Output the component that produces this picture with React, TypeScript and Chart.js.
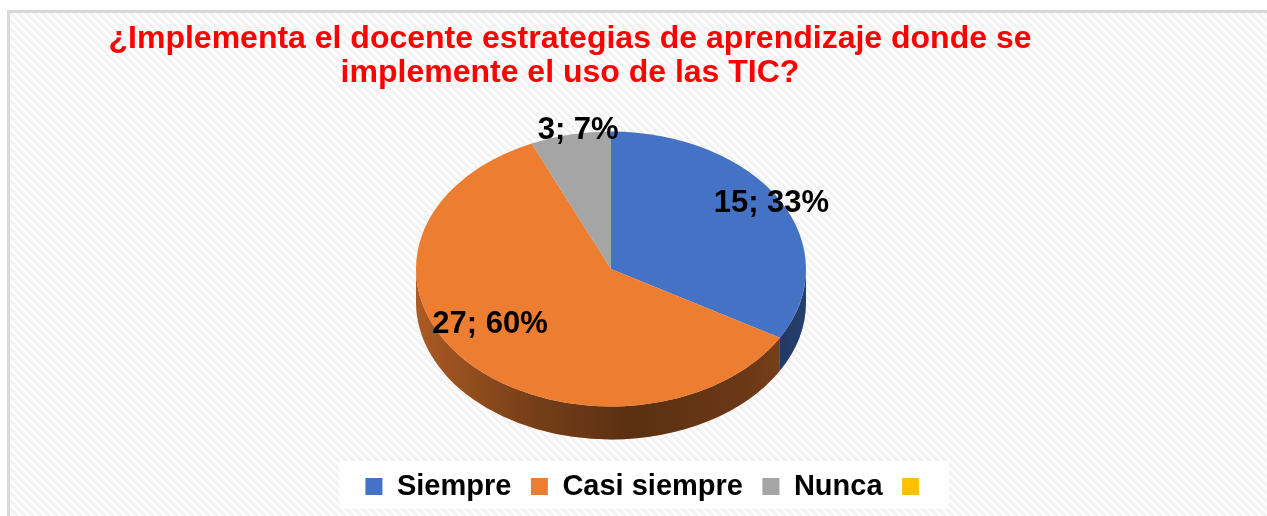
import React, { useEffect, useRef } from "react";
import { Chart, registerables } from "chart.js";

Chart.register(...registerables);

// ---------- data ----------
const titleLines = [
  "¿Implementa el docente estrategias de aprendizaje donde se",
  "implemente el uso de las TIC?",
];
const categories = ["Siempre", "Casi siempre", "Nunca", ""];
const counts = [15, 27, 3, 0];
const sliceColors = ["#4472C4", "#ED7D31", "#A5A5A5", "#FFC000"];

// ---------- style ----------
const FONT = "'Liberation Sans', Arial, Helvetica, sans-serif";
const TILT = 0.705; // vertical squash of the pie top face
const DEPTH = 33; // thickness of the 3D pie side
const RADIUS = 195;
const labelRadius = [0.95, 0.74, 1.02, 0];
const labelNudgeDeg = [0, 9, 2.5, 0];
const TITLE_X = 560;
const TITLE_BASELINES = [35, 69];
const CANVAS_W = 1257;
const CANVAS_H = 503;

function makePattern(ctx: CanvasRenderingContext2D) {
  const c = document.createElement("canvas");
  c.width = 8;
  c.height = 8;
  const g = c.getContext("2d")!;
  g.fillStyle = "#f8f8f8";
  g.fillRect(0, 0, 8, 8);
  for (let i = 0; i < 8; i++) {
    g.fillStyle = "#efefef";
    g.fillRect(i % 8, i, 1, 1);
    g.fillRect((i + 1) % 8, i, 1, 1);
    g.fillStyle = "#ffffff";
    g.fillRect((i + 4) % 8, i, 1, 1);
    g.fillRect((i + 5) % 8, i, 1, 1);
  }
  return ctx.createPattern(c, "repeat");
}

const backgroundPlugin = {
  id: "bgPattern",
  beforeDraw(chart: any) {
    const { ctx, width, height } = chart;
    ctx.save();
    ctx.fillStyle = makePattern(ctx) || "#f5f5f5";
    ctx.fillRect(0, 0, width, height);
    const lg = chart.legend;
    if (lg && lg.legendHitBoxes && lg.legendHitBoxes.length) {
      const hb = lg.legendHitBoxes;
      const first = hb[0];
      const last = hb[hb.length - 1];
      const box = lg.options.labels.boxWidth;
      const mid = first.top + first.height / 2;
      const left = first.left - 26;
      const right = last.left + box + 30;
      ctx.fillStyle = "#ffffff";
      ctx.fillRect(left, mid - 25.5, right - left, 48);
    }
    ctx.restore();
  },
};

let saved = false;
const pie3dPlugin = {
  id: "pie3d",
  beforeDatasetsDraw(chart: any) {
    const meta = chart.getDatasetMeta(0);
    const arcs = meta.data;
    saved = false;
    if (!arcs.length) return;
    const ctx: CanvasRenderingContext2D = chart.ctx;
    const cx = arcs[0].x;
    const cy = arcs[0].y;
    const rx = arcs[0].outerRadius;
    const ry = rx * TILT;
    const colors = chart.data.datasets[0].backgroundColor;

    const shade = ctx.createLinearGradient(cx - rx, 0, cx + rx, 0);
    shade.addColorStop(0, "rgba(0,0,0,0.28)");
    shade.addColorStop(0.3, "rgba(0,0,0,0.5)");
    shade.addColorStop(0.55, "rgba(0,0,0,0.62)");
    shade.addColorStop(0.85, "rgba(0,0,0,0.55)");
    shade.addColorStop(1, "rgba(0,0,0,0.45)");

    ctx.save();
    arcs.forEach((arc: any, i: number) => {
      const s = arc.startAngle;
      const e = arc.endAngle;
      for (const off of [-2 * Math.PI, 0, 2 * Math.PI]) {
        const lo = Math.max(s, off);
        const hi = Math.min(e, off + Math.PI);
        if (hi - lo > 1e-6) {
          const a0 = lo - off;
          const a1 = hi - off;
          ctx.beginPath();
          ctx.ellipse(cx, cy, rx, ry, 0, a0, a1, false);
          ctx.ellipse(cx, cy + DEPTH, rx, ry, 0, a1, a0, true);
          ctx.closePath();
          ctx.fillStyle = colors[i];
          ctx.fill();
          ctx.fillStyle = shade;
          ctx.fill();
        }
      }
    });
    ctx.restore();

    ctx.save();
    saved = true;
    ctx.translate(cx, cy);
    ctx.scale(1, TILT);
    ctx.translate(-cx, -cy);
  },
  afterDatasetsDraw(chart: any) {
    if (saved) chart.ctx.restore();
    saved = false;
  },
  afterDraw(chart: any) {
    const ctx: CanvasRenderingContext2D = chart.ctx;
    ctx.save();
    // title
    ctx.font = `bold 32px ${FONT}`;
    ctx.fillStyle = "#ff0000";
    ctx.textAlign = "center";
    ctx.textBaseline = "alphabetic";
    titleLines.forEach((line, i) => ctx.fillText(line, TITLE_X, TITLE_BASELINES[i]));

    // data labels
    ctx.font = `bold 31px ${FONT}`;
    const meta = chart.getDatasetMeta(0);
    const arcs = meta.data;
    const values: number[] = chart.data.datasets[0].data;
    const total = values.reduce((a, b) => a + b, 0);
    ctx.fillStyle = "#000000";
    ctx.textBaseline = "middle";
    arcs.forEach((arc: any, i: number) => {
      const v = values[i];
      if (!v) return;
      const mid = (arc.startAngle + arc.endAngle) / 2 + (labelNudgeDeg[i] * Math.PI) / 180;
      const r = arc.outerRadius * labelRadius[i];
      const x = arc.x + Math.cos(mid) * r;
      const y = arc.y + Math.sin(mid) * r * TILT;
      ctx.fillText(`${v}; ${Math.round((v / total) * 100)}%`, x, y);
    });
    ctx.restore();
  },
};

export default function App() {
  const ref = useRef<HTMLCanvasElement>(null);
  useEffect(() => {
    document.body.style.overflow = "hidden";
    if (!ref.current) return;
    const chart = new Chart(ref.current, {
      type: "pie",
      data: {
        labels: categories,
        datasets: [
          {
            data: counts,
            backgroundColor: sliceColors,
            borderWidth: 0,
            radius: RADIUS,
            clip: false,
          } as any,
        ],
      },
      options: {
        responsive: false,
        animation: false,
        events: [],
        layout: { padding: { top: 72.5, bottom: 5, left: 22, right: 0 } },
        plugins: {
          title: { display: false },
          subtitle: {
            display: true,
            position: "right",
            fullSize: false,
            text: "",
            padding: 32.5,
            font: { size: 10 },
          },
          tooltip: { enabled: false },
          legend: {
            position: "bottom",
            labels: {
              boxWidth: 17,
              boxHeight: 17,
              padding: 19.5,
              color: "#000000",
              font: { family: FONT, size: 29, weight: "bold" },
            },
          },
        },
      } as any,
      plugins: [backgroundPlugin, pie3dPlugin],
    });
    return () => chart.destroy();
  }, []);

  return (
    <div
      style={{
        position: "absolute",
        left: 7,
        top: 10,
        width: CANVAS_W,
        height: CANVAS_H,
        borderLeft: "3px solid #d9d9d9",
        borderTop: "3px solid #d9d9d9",
      }}
    >
      <canvas
        ref={ref}
        width={CANVAS_W}
        height={CANVAS_H}
        style={{ display: "block", width: CANVAS_W, height: CANVAS_H }}
      />
    </div>
  );
}
